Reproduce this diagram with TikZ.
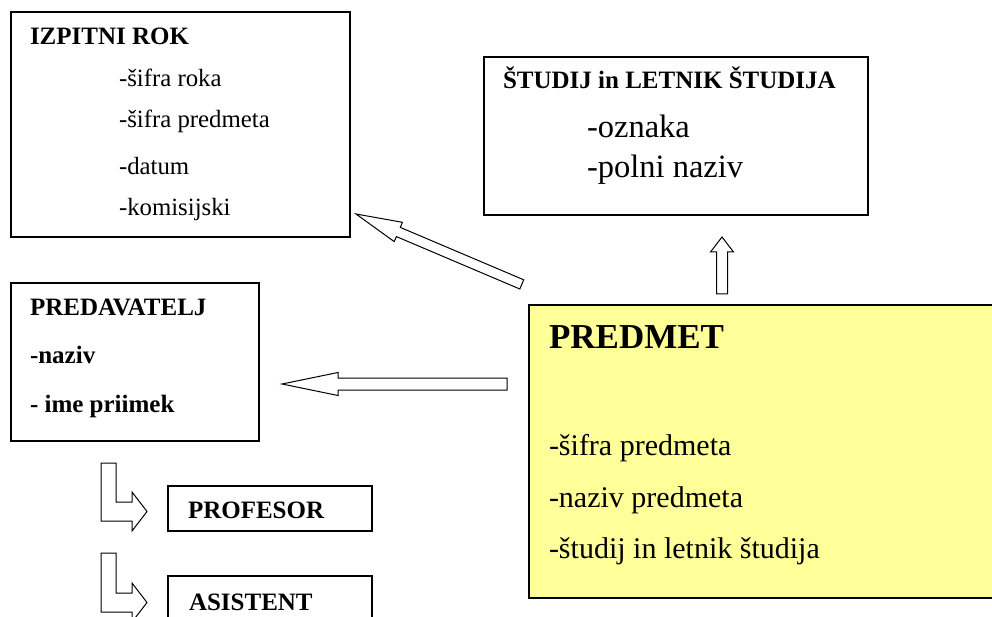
\documentclass[tikz,border=0pt]{standalone}
\usepackage{fontspec}
\setmainfont{Liberation Serif}
\definecolor{noteyellow}{RGB}{255,255,153}
\begin{document}
\begin{tikzpicture}[x=1pt,y=-1pt,
  box/.style={draw=black, line width=1.4pt, rectangle, inner sep=0pt, outer sep=0pt, anchor=north west},
  txt/.style={anchor=base west, inner sep=0pt, outer sep=0pt},
  boldtxt/.style={txt, font=\fontsize{25}{28}\selectfont\bfseries},
  plaintxt/.style={txt, font=\fontsize{24.8}{28}\selectfont},
  blockarrow/.style={draw=black, line width=1pt, fill=white, line join=miter}]
\useasboundingbox (0,0) rectangle (992,617);
\clip (0,0) rectangle (992,617);

% frames
\node[box, minimum width=339pt, minimum height=225pt] (izpit) at (11,12) {};
\node[box, minimum width=384pt, minimum height=158pt] (studij) at (484,57) {};
\node[box, minimum width=248pt, minimum height=158pt] (predav) at (11,283) {};
\node[box, fill=noteyellow, minimum width=480pt, minimum height=293pt] (predmet) at (529,305) {};
\node[box, minimum width=204pt, minimum height=45pt] (prof) at (168,486) {};
\node[box, minimum width=204pt, minimum height=70pt] (asist) at (168,576) {};

% IZPITNI ROK
\node[boldtxt] (izpitT) at (30,45) {IZPITNI ROK};
\node[plaintxt] (izpit1) at (119,87) {-šifra roka};
\node[plaintxt] (izpit2) at (119,128) {-šifra predmeta};
\node[plaintxt] (izpit3) at (119,175) {-datum};
\node[plaintxt] (izpit4) at (119,216) {-komisijski};

% ŠTUDIJ in LETNIK ŠTUDIJA
\node[boldtxt] (studijT) at (503,89) {ŠTUDIJ in LETNIK ŠTUDIJA};
\node[txt, font=\fontsize{32.5}{36}\selectfont] (studij1) at (587,138) {-oznaka};
\node[txt, font=\fontsize{32.5}{36}\selectfont] (studij2) at (587,178) {-polni naziv};

% PREDAVATELJ
\node[boldtxt] (predavT) at (30,316) {PREDAVATELJ};
\node[boldtxt] (predav1) at (30,363) {-naziv};
\node[boldtxt] (predav2) at (30,412) {- ime priimek};

% PREDMET
\node[txt, font=\fontsize{35}{40}\selectfont\bfseries] (predmetT) at (549,348) {PREDMET};
\node[txt, font=\fontsize{30}{34}\selectfont] (predmet1) at (549,455) {-šifra predmeta};
\node[txt, font=\fontsize{30}{34}\selectfont] (predmet2) at (549,507) {-naziv predmeta};
\node[txt, font=\fontsize{30}{34}\selectfont] (predmet3) at (549,558) {-študij in letnik študija};

% PROFESOR / ASISTENT
\node[boldtxt] (profT) at (188,518) {PROFESOR};
\node[boldtxt] (asistT) at (189,610) {ASISTENT};

% block arrows
% PREDMET -> IZPITNI ROK (diagonal)
\draw[blockarrow] (356,214) -- (402.4,222.3) -- (400.3,227.4) -- (523.7,279.8)
  -- (519.8,289.0) -- (396.4,236.6) -- (394.2,241.6) -- cycle;
% PREDMET -> PREDAVATELJ
\draw[blockarrow] (282,384) -- (338,372.5) -- (338,378) -- (507,378)
  -- (507,390) -- (338,390) -- (338,395.5) -- cycle;
% PREDMET -> ŠTUDIJ
\draw[blockarrow] (722,237) -- (733.5,252) -- (727.5,252) -- (727.5,294)
  -- (716.5,294) -- (716.5,252) -- (710.5,252) -- cycle;
% bent arrows to PROFESOR and ASISTENT
\draw[blockarrow] (101,463) -- (116,463) -- (116,502) -- (132,502) -- (132,492)
  -- (147,511.5) -- (132,531) -- (132,521) -- (101,521) -- cycle;
\draw[blockarrow] (101,553) -- (116,553) -- (116,593) -- (132,593) -- (132,583)
  -- (147,602.5) -- (132,622) -- (132,612) -- (101,612) -- cycle;
\end{tikzpicture}
\end{document}
